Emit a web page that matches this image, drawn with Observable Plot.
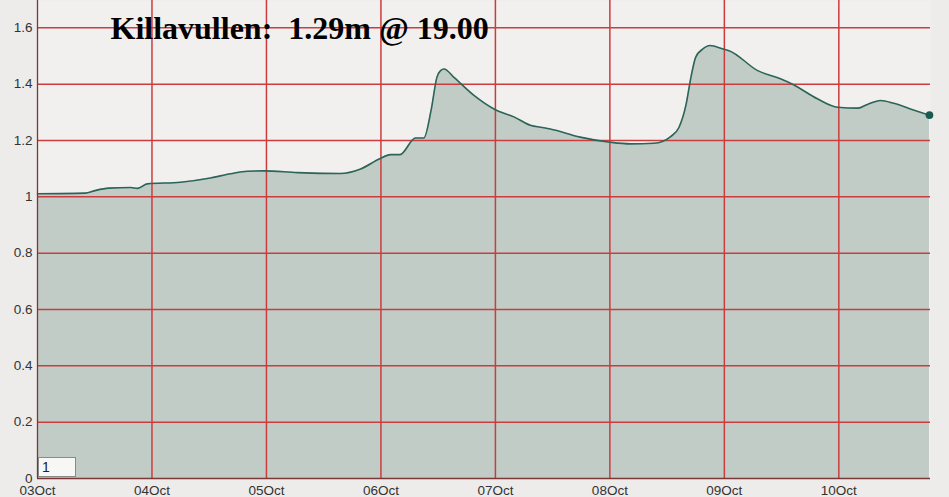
<!DOCTYPE html>
<html>
<head>
<meta charset="utf-8">
<script src="https://cdn.jsdelivr.net/npm/d3@7"></script>
<script src="https://cdn.jsdelivr.net/npm/@observablehq/plot@0.6"></script>
<style>
  html, body { margin: 0; padding: 0; background: #edecea; }
  #wrap { position: relative; width: 949px; height: 497px; overflow: hidden; }
  #legendbox { position: absolute; left: 38px; top: 457px; width: 38px; height: 20px;
    background: #f7f7f6; border: 1px solid #8a8a8a; box-sizing: border-box;
    font: 14px "Liberation Sans", Arial, sans-serif; color: #222; padding: 1px 0 0 3px; line-height: 17px; }
</style>
</head>
<body>
<div id="wrap"><div id="legendbox">1</div></div>
<script>
// --- data ---
const times = [
  "2014-10-03T00:00Z","2014-10-03T10:00Z","2014-10-03T12:00Z","2014-10-03T15:00Z","2014-10-03T19:30Z",
  "2014-10-03T21:00Z","2014-10-03T23:00Z","2014-10-04T06:00Z","2014-10-04T12:15Z","2014-10-04T16:30Z",
  "2014-10-04T20:00Z","2014-10-04T23:30Z","2014-10-05T06:30Z","2014-10-05T15:30Z","2014-10-05T19:45Z",
  "2014-10-05T23:45Z","2014-10-06T02:00Z","2014-10-06T04:00Z","2014-10-06T07:15Z","2014-10-06T09:00Z",
  "2014-10-06T10:30Z","2014-10-06T11:45Z","2014-10-06T12:30Z","2014-10-06T13:15Z","2014-10-06T15:15Z",
  "2014-10-06T19:30Z","2014-10-07T00:00Z","2014-10-07T04:00Z","2014-10-07T07:30Z","2014-10-07T09:30Z",
  "2014-10-07T11:30Z","2014-10-07T17:45Z","2014-10-08T00:00Z","2014-10-08T04:15Z","2014-10-08T09:15Z",
  "2014-10-08T12:45Z","2014-10-08T14:30Z","2014-10-08T16:00Z","2014-10-08T17:00Z","2014-10-08T18:00Z",
  "2014-10-08T19:30Z","2014-10-08T21:00Z","2014-10-08T23:45Z","2014-10-09T01:00Z","2014-10-09T07:00Z",
  "2014-10-09T11:45Z","2014-10-09T14:30Z","2014-10-09T19:30Z","2014-10-09T23:45Z","2014-10-10T04:00Z",
  "2014-10-10T06:00Z","2014-10-10T08:45Z","2014-10-10T11:30Z","2014-10-10T15:00Z","2014-10-10T19:00Z"
];
const levels = [
  1.011, 1.013, 1.022, 1.031, 1.033,
  1.030, 1.046, 1.052, 1.067, 1.082,
  1.091, 1.092, 1.086, 1.083, 1.099,
  1.135, 1.150, 1.150, 1.209, 1.209,
  1.306, 1.425, 1.448, 1.454, 1.425,
  1.360, 1.309, 1.283, 1.253, 1.247,
  1.241, 1.212, 1.194, 1.188, 1.190,
  1.214, 1.247, 1.330, 1.425, 1.496,
  1.525, 1.537, 1.525, 1.519, 1.448,
  1.419, 1.398, 1.348, 1.318, 1.315,
  1.328, 1.342, 1.332, 1.312, 1.290
];
const dayTicks = ["2014-10-03","2014-10-04","2014-10-05","2014-10-06","2014-10-07","2014-10-08","2014-10-09","2014-10-10"];
const dayLabels = ["03Oct","04Oct","05Oct","06Oct","07Oct","08Oct","09Oct","10Oct"];
const yTicks = [0, 0.2, 0.4, 0.6, 0.8, 1, 1.2, 1.4, 1.6];
const yLabels = ["0","0.2","0.4","0.6","0.8","1","1.2","1.4","1.6"];
const titleText = "Killavullen:  1.29m @ 19.00";
const xStart = "2014-10-03T00:00Z";
const xEnd = "2014-10-10T19:13Z";
const yMax = 1.697;

// --- build ---
const data = times.map((t, i) => ({time: new Date(t), level: levels[i]}));
const dayDates = dayTicks.map(d => new Date(d + "T00:00Z"));
const xLabelMap = new Map(dayDates.map((d, i) => [+d, dayLabels[i]]));
const yLabelMap = new Map(yTicks.map((v, i) => [v, yLabels[i]]));
const last = data[data.length - 1];
const gridColor = "#cc3c3e";

const chart = Plot.plot({
  width: 949,
  height: 497,
  marginLeft: 37,
  marginRight: 19,
  marginTop: 0,
  marginBottom: 19,
  style: {background: "#edecea", fontFamily: "'Liberation Sans', Arial, sans-serif", fontSize: "13.5px", color: "#333"},
  x: {type: "utc", domain: [new Date(xStart), new Date(xEnd)], ticks: dayDates,
      tickFormat: d => xLabelMap.get(+d), tickSize: 0, tickPadding: 7, label: null},
  y: {domain: [0, yMax], ticks: yTicks, tickFormat: v => yLabelMap.get(v), tickSize: 0, tickPadding: 5, label: null},
  marks: [
    Plot.frame({fill: "#f1f0ee", stroke: null}),
    Plot.areaY(data, {x: "time", y: "level", fill: "#c1ccc7", curve: "monotone-x"}),
    Plot.ruleY(yTicks.filter(v => v > 0), {stroke: gridColor, strokeWidth: 1.5}),
    Plot.ruleX(dayDates.slice(1), {stroke: gridColor, strokeWidth: 1.5}),
    Plot.lineY(data, {x: "time", y: "level", stroke: "#2b6459", strokeWidth: 1.6, curve: "monotone-x"}),
    Plot.dot([last], {x: "time", y: "level", r: 3.8, fill: "#175a4f", stroke: null}),
    Plot.ruleX([new Date(xStart)], {stroke: "#7b3636", strokeWidth: 1.3}),
    Plot.ruleY([0], {stroke: "#7b3636", strokeWidth: 1.3}),
    Plot.text([titleText], {text: d => d, frameAnchor: "top-left", textAnchor: "start", lineAnchor: "bottom",
      dx: 73, dy: 38, fontSize: 32, fontWeight: "bold", fontFamily: "'Liberation Serif', 'Times New Roman', serif", fill: "#000"})
  ]
});
document.getElementById("wrap").prepend(chart);
</script>
</body>
</html>
